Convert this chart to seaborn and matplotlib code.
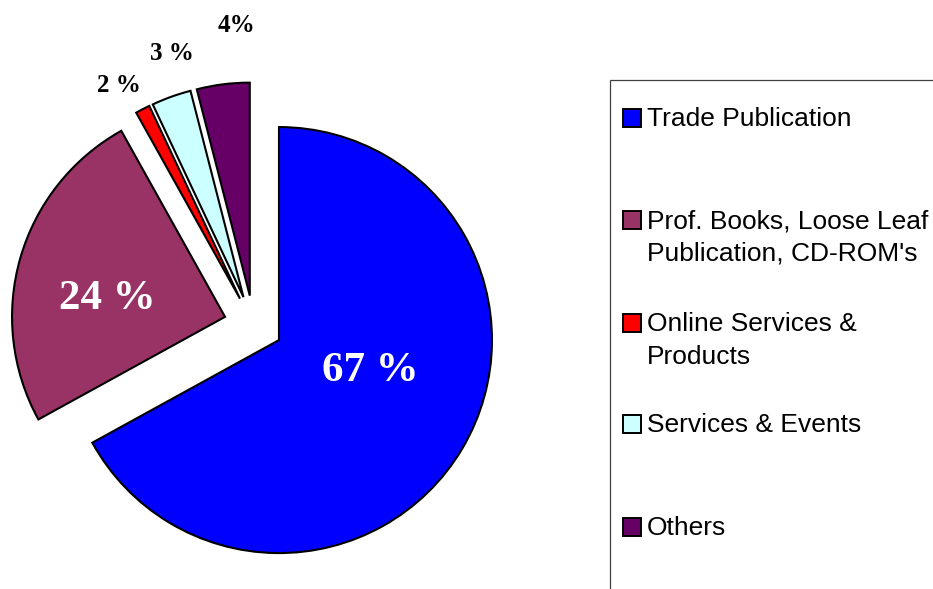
import matplotlib
matplotlib.use("Agg")
import matplotlib.pyplot as plt
from matplotlib.patches import Rectangle
import seaborn as sns

# data
categories = ["Trade Publication",
              "Prof. Books, Loose Leaf\nPublication, CD-ROM's",
              "Online Services &\nProducts",
              "Services & Events",
              "Others"]
shares = [67.0, 24.9, 1.1, 3.0, 4.0]
pct_labels = ["67 %", "24 %", "2 %", "3 %", "4%"]
colors = ["#0000FF", "#993366", "#FF0000", "#CCFFFF", "#660066"]

sns.set_style("white")
plt.rcParams["font.family"] = ["Liberation Sans", "DejaVu Sans"]

W, H = 933, 589
fig = plt.figure(figsize=(W / 100, H / 100), dpi=100)
ax = fig.add_axes([0, 0, 1, 1])

# pie, every slice pulled out a bit (explode is in data units here)
ax.pie(shares, colors=colors, startangle=90, counterclock=False,
       explode=[29.6] * len(shares), center=(253.5, H - 325), radius=213,
       wedgeprops={"edgecolor": "black", "linewidth": 1.5},
       frame=True)
ax.set_xlim(0, W)
ax.set_ylim(0, H)
ax.set_aspect("equal")
ax.axis("off")

# percentage labels (placed like the original)
label_pos = [(370, 371), (107, 299), (119, 86), (172, 54), (236, 25)]
label_col = ["white", "white", "black", "black", "black"]
label_size = [31, 31, 18, 18, 18]
for txt, (x, y), c, s in zip(pct_labels, label_pos, label_col, label_size):
    ax.text(x, H - y, txt, ha="center", va="center", color=c, fontsize=s,
            fontweight="bold", family=["Liberation Serif", "DejaVu Serif"])

# legend drawn by hand, box runs off the right/bottom edge
ax.add_patch(Rectangle((610, -20), 400, H - 80 + 20, facecolor="white",
                       edgecolor="#404040", linewidth=0.9, clip_on=False))
entry_y = [117, 219, 322, 423, 526]
for name, c, y in zip(categories, colors, entry_y):
    ax.add_patch(Rectangle((623, H - y - 10), 18, 18, facecolor=c,
                           edgecolor="black", linewidth=1.4))
    for k, line in enumerate(name.split("\n")):
        ax.text(647, H - (y + 2 + 33 * k), line, ha="left", va="center",
                fontsize=19, color="black")

fig.savefig("out.png", dpi=100)
